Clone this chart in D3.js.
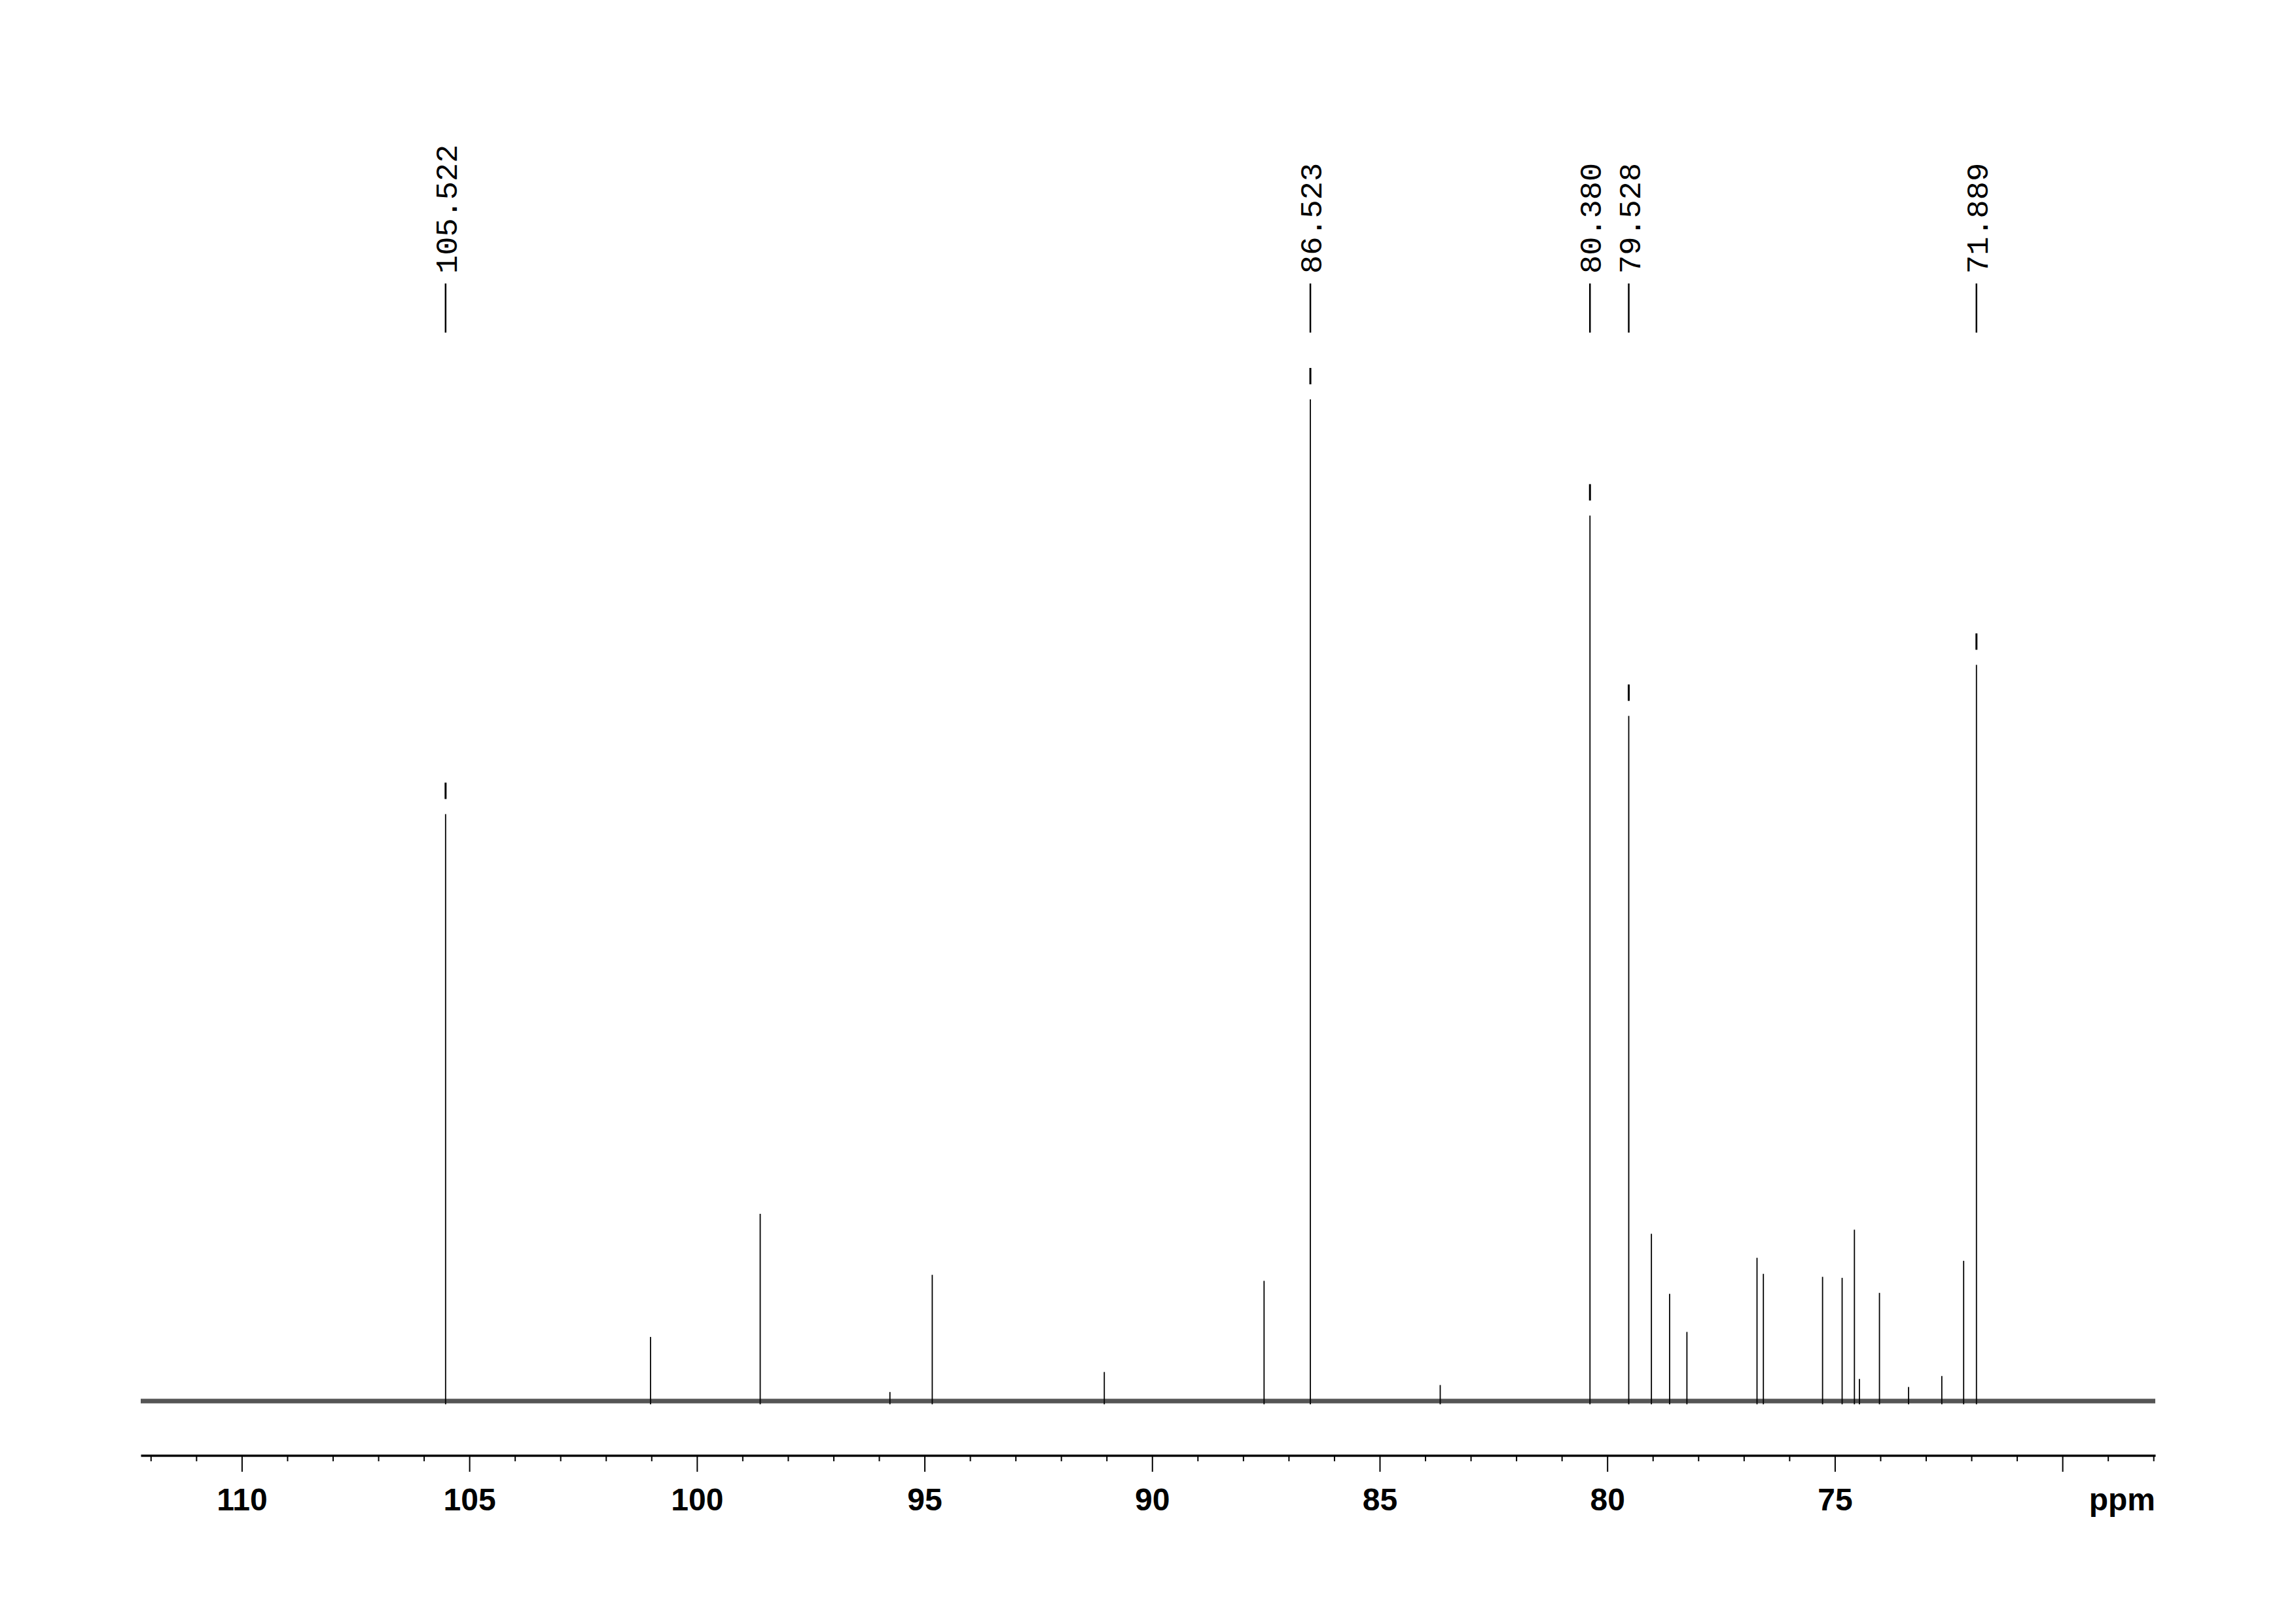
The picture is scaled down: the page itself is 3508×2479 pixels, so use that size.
<!DOCTYPE html>
<html>
<head>
<meta charset="utf-8">
<script src="https://cdn.jsdelivr.net/npm/d3@7"></script>
<style>
  html, body { margin: 0; padding: 0; background: #fff; }
  svg { display: block; }
</style>
</head>
<body>
<svg id="chart" width="3508" height="2479"></svg>
<script>
// ---- data ----
const peakPpm = [105.522, 101.02, 98.61, 95.76, 94.83, 91.05, 87.54, 86.523, 83.67,
                 80.380, 79.528, 79.03, 78.63, 78.25, 76.71, 76.57, 75.27, 74.84,
                 74.57, 74.46, 74.02, 73.38, 72.65, 72.17, 71.889];
const peakIntensity = [58.6, 6.4, 18.7, 0.9, 12.6, 2.9, 12.0, 100, 1.6,
                       88.4, 68.4, 16.7, 10.7, 6.9, 14.3, 12.7, 12.4, 12.3,
                       17.1, 2.2, 10.8, 1.4, 2.5, 14.0, 73.5];
const labelPpm = [105.522, 86.523, 80.380, 79.528, 71.889];
const majorTicks = [110, 105, 100, 95, 90, 85, 80, 75, 70];
const minorTicks = d3.range(68, 113).filter(v => v % 5 !== 0);
const axisUnit = "ppm";

// ---- layout ----
const svg = d3.select("#chart");
svg.append("rect").attr("width", 3508).attr("height", 2479).attr("fill", "#fff");

const x = d3.scaleLinear().domain([112.22, 67.96]).range([215, 3293]);
const y = d3.scaleLinear().domain([0, 100]).range([2140, 610]);
const axisY = 2223;

// baseline (noise band rendered as a soft thick line)
svg.append("line")
  .attr("x1", x(112.22)).attr("x2", x(67.96))
  .attr("y1", y(0)).attr("y2", y(0))
  .attr("stroke", "#555").attr("stroke-width", 7);

// peaks
const peaks = peakPpm.map((p, i) => ({ppm: p, v: peakIntensity[i]}));
svg.append("g").selectAll("line").data(peaks).join("line")
  .attr("x1", d => x(d.ppm)).attr("x2", d => x(d.ppm))
  .attr("y1", y(0) + 5).attr("y2", d => y(d.v))
  .attr("stroke", "#000").attr("stroke-width", 1.8);

// peak-top marks for labelled peaks
const labelled = labelPpm.map(p => peaks.find(d => d.ppm === p));
svg.append("g").selectAll("line").data(labelled).join("line")
  .attr("x1", d => x(d.ppm)).attr("x2", d => x(d.ppm))
  .attr("y1", d => y(d.v) - 48).attr("y2", d => y(d.v) - 23)
  .attr("stroke", "#000").attr("stroke-width", 3);

// label leader lines
svg.append("g").selectAll("line").data(labelPpm).join("line")
  .attr("x1", d => x(d)).attr("x2", d => x(d))
  .attr("y1", 433).attr("y2", 508)
  .attr("stroke", "#000").attr("stroke-width", 2.5);

// labels (rotated)
svg.append("g").selectAll("text").data(labelPpm).join("text")
  .attr("transform", d => `translate(${x(d)},418) rotate(-90)`)
  .attr("x", 0).attr("y", 17)
  .attr("font-family", "'Liberation Mono', 'DejaVu Sans Mono', monospace")
  .attr("font-size", 47)
  .attr("fill", "#000")
  .text(d => d.toFixed(3));

// ---- axis ----
const minorAxis = d3.axisBottom(x).tickValues(minorTicks).tickSize(9).tickFormat("");
const gMinor = svg.append("g").attr("transform", `translate(0,${axisY})`).call(minorAxis);
gMinor.select(".domain").remove();
gMinor.selectAll(".tick line").attr("stroke", "#000").attr("stroke-width", 2);

const majorAxis = d3.axisBottom(x).tickValues(majorTicks).tickSize(25).tickSizeOuter(0)
  .tickPadding(25).tickFormat(d => d === 70 ? "" : d);
const gMajor = svg.append("g").attr("transform", `translate(0,${axisY})`).call(majorAxis);
gMajor.select(".domain").attr("stroke", "#000").attr("stroke-width", 3.5);
gMajor.selectAll(".tick line").attr("stroke", "#000").attr("stroke-width", 2);
gMajor.selectAll(".tick text")
  .attr("font-family", "'Liberation Sans', Arial, sans-serif")
  .attr("font-weight", "bold").attr("font-size", 48).attr("fill", "#000");

svg.append("text")
  .attr("x", x(67.96)).attr("y", 2307)
  .attr("text-anchor", "end")
  .attr("font-family", "'Liberation Sans', Arial, sans-serif")
  .attr("font-weight", "bold").attr("font-size", 48).attr("fill", "#000")
  .text(axisUnit);
</script>
</body>
</html>
